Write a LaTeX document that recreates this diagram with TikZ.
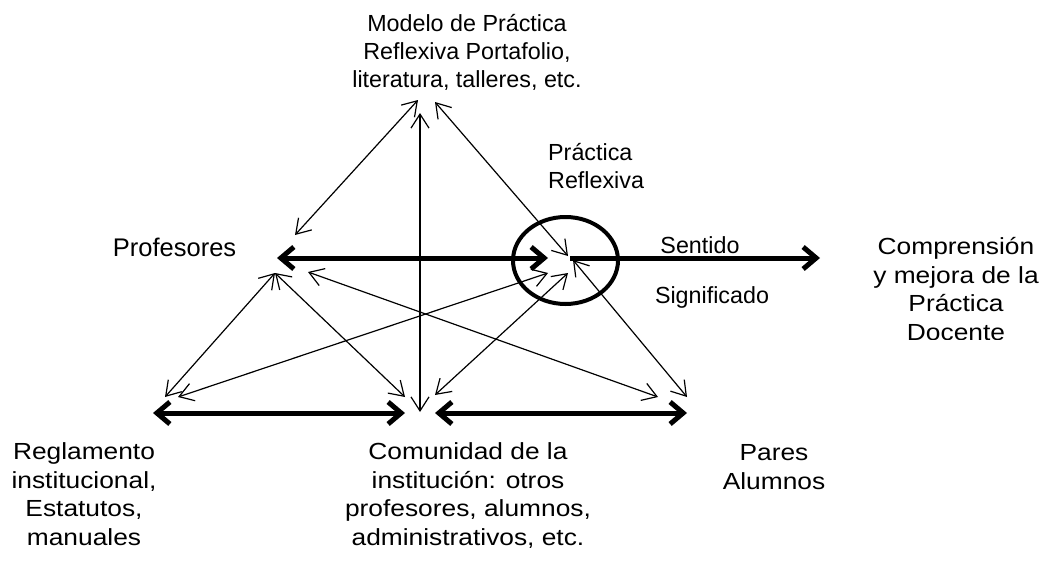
\documentclass[tikz,border=0pt]{standalone}
\usepackage{fontspec}
\setmainfont{Liberation Sans}
\newfontfamily\widefont{Liberation Sans}[FakeStretch=1.13]
\usetikzlibrary{arrows.meta}
\tikzset{
  lbl/.style={inner sep=0pt, align=center, font=\fontsize{23.3}{28}\selectfont},
  widelbl/.style={inner sep=0pt, align=center, font=\widefont\fontsize{23.3}{28.4}\selectfont},
  rel/.style={line width=1.2pt, {Straight Barb[length=14pt,width=18pt]}-{Straight Barb[length=14pt,width=18pt]}},
  bigtwo/.style={line width=5pt, {Straight Barb[length=13pt,width=22pt]}-{Straight Barb[length=13pt,width=22pt]}},
  bigone/.style={line width=5pt, -{Straight Barb[length=13pt,width=22pt]}},
  ring/.style={line width=4pt}
}
\begin{document}
\begin{tikzpicture}[x=1pt,y=-1pt]
\useasboundingbox[fill=white] (0,0) rectangle (1047,562);

% labels (anchor=base is the baseline of the last line)
\node[lbl, anchor=base] (modelo) at (467,87.7) {Modelo de Práctica\\Reflexiva Portafolio,\\literatura, talleres, etc.};
\node[lbl, anchor=base west, align=left] (practica) at (548,188) {Práctica\\Reflexiva};
\node[inner sep=0pt, font=\fontsize{25.5}{30}\selectfont, anchor=base west] (profesores) at (112.7,256.7) {Profesores};
\node[lbl, anchor=base] (sentido) at (700,253) {Sentido};
\node[lbl, anchor=base] (significado) at (712,303) {Significado};
\begin{scope}
  \clip (820,200) rectangle (1047,339);
  \node[widelbl, anchor=base] (comprension) at (956,340) {Comprensión\\y mejora de la\\Práctica\\Docente};
\end{scope}
\node[widelbl, anchor=base] (reglamento) at (84,545) {Reglamento\\institucional,\\Estatutos,\\manuales};
\node[widelbl, anchor=base] (comunidad) at (468,545) {Comunidad de la\\institución: otros\\profesores, alumnos,\\administrativos, etc.};
\node[widelbl, anchor=base] (pares) at (774,489) {Pares\\Alumnos};

% end points
\coordinate (m1) at (418,100);
\coordinate (m2) at (420,113);
\coordinate (m3) at (435,102);
\coordinate (pa) at (295,235);
\coordinate (pb) at (275,273);
\coordinate (pc) at (308,272);
\coordinate (pl) at (277,258);
\coordinate (cl) at (548,258);
\coordinate (cc) at (570,258);
\coordinate (cr) at (820,258);
\coordinate (c1) at (568,256);
\coordinate (c2) at (548,273);
\coordinate (c3) at (568,273);
\coordinate (c4) at (573,260);
\coordinate (r1) at (165,397);
\coordinate (r2) at (178,397);
\coordinate (rl) at (153,413);
\coordinate (k1) at (405,397);
\coordinate (k2) at (435,395);
\coordinate (kv) at (420,412);
\coordinate (kl) at (405,413);
\coordinate (kr) at (435,413);
\coordinate (s1) at (658,397);
\coordinate (s2) at (687,397);
\coordinate (sl) at (687,413);

% circle
\draw[ring] (565.5,260.5) ellipse [x radius=52.5, y radius=43.5];

% thin relations
\draw[rel] (m1) -- (pa);
\draw[rel] (m2) -- (kv);
\draw[rel] (m3) -- (c1);
\draw[rel] (pb) -- (r1);
\draw[rel] (pb) -- (k1);
\draw[rel] (r2) -- (c2);
\draw[rel] (pc) -- (s1);
\draw[rel] (c3) -- (k2);
\draw[rel] (c4) -- (s2);

% thick arrows
\draw[bigtwo] (pl) -- (cl);
\draw[bigone] (cc) -- (cr);
\draw[bigtwo] (rl) -- (kl);
\draw[bigtwo] (kr) -- (sl);
\end{tikzpicture}
\end{document}
